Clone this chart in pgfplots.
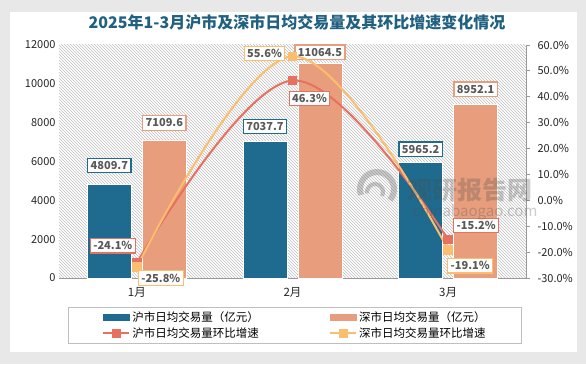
\documentclass[border=0pt]{standalone}
\usepackage{pgfplots}
\pgfplotsset{compat=1.18}
\usepackage{fontspec}
\setmainfont{Noto Sans CJK SC}
\usetikzlibrary{patterns}
\definecolor{cblue}{RGB}{30,107,143}
\definecolor{corange}{RGB}{232,158,124}
\definecolor{cred}{RGB}{232,112,96}
\definecolor{clight}{RGB}{252,190,110}
\definecolor{ctitle}{RGB}{32,96,128}
\definecolor{ctext}{RGB}{89,89,89}
\tikzset{
  lab/.style={draw=#1, fill=white, line width=1.1pt, inner xsep=3pt, inner ysep=3pt,
    text=ctext, font=\bfseries\fontsize{11}{12}\selectfont, anchor=center},
}
\pgfplotsset{
  common/.style={
    at={(59pt,86pt)}, anchor=south west, scale only axis, width=467pt, height=233pt,
    xmin=-0.5, xmax=2.5, clip=false,
    /pgf/number format/assume math mode=true,
    tick label style={font=\fontsize{11}{12}\selectfont, text=black!85},
  }
}
\begin{document}
\begin{tikzpicture}[x=1pt,y=1pt]
\fill[black!9] (0,0) rectangle (586,364);
\fill[white] (10,12) rectangle (577,352);
\node[font=\bfseries\fontsize{16}{18}\selectfont, text=ctitle] at (297,342) {2025年1-3月沪市及深市日均交易量及其环比增速变化情况};

\begin{axis}[common,
  ymin=0, ymax=12000, ytick={0,2000,...,12000},
  scaled y ticks=false,
  /pgf/number format/1000 sep={},
  yticklabel={\pgfmathprintnumber[fixed,precision=0,1000 sep={}]{\tick}},
  axis x line*=bottom, axis y line*=left,
  y axis line style={draw=none}, ytick style={draw=none},
  x axis line style={draw=black!40, line width=0.8pt}, xtick style={draw=none},
  xtick={0,1,2}, xticklabels={1月,2月,3月},
  xticklabel style={font=\fontsize{11.5}{12}\selectfont, yshift=-2pt},
  axis background/.style={pattern=north west lines, pattern color=black!25},
  ybar, bar width=44pt,
  point meta=y,
  visualization depends on={\thisrow{dy} \as \dy},
  nodes near coords={\pgfmathprintnumber[fixed,fixed zerofill,precision=1,1000 sep={}]{\pgfplotspointmeta}},
]
\addplot[bar shift=-27.5pt, fill=cblue, draw=white, line width=0.8pt,
  every node near coord/.append style={lab=cblue, yshift=\dy}]
  table {
x y dy
0 4809.7 19
1 7037.7 15
2 5965.2 13
};
\addplot[bar shift=27.5pt, fill=corange, draw=white, line width=0.8pt,
  every node near coord/.append style={lab=corange, yshift=\dy}]
  table {
x y dy
0 7109.6 17
1 11064.5 11
2 8952.1 15
};
\end{axis}

\begin{axis}[common,
  ymin=-30, ymax=60, ytick={-30,-20,...,60},
  axis x line=none, axis y line*=right,
  y axis line style={draw=black!40, line width=0.8pt},
  ytick style={draw=black!40, line width=0.8pt}, tick align=outside, major tick length=4pt,
  yticklabel={\pgfmathprintnumber[fixed,fixed zerofill,precision=1]{\tick}\%},
  yticklabel style={xshift=4pt},
  point meta=y,
  visualization depends on={\thisrow{dx} \as \dx},
  visualization depends on={\thisrow{dy} \as \dy},
  nodes near coords={\pgfmathprintnumber[fixed,fixed zerofill,precision=1]{\pgfplotspointmeta}\%},
  legend columns=2,
  legend style={at={(0.505,-0.1245)}, anchor=north, draw=black!25, line width=0.8pt,
    font=\fontsize{11.5}{13}\selectfont, inner xsep=34pt, inner ysep=2pt,
    row sep=1pt,
    /tikz/every even column/.append style={column sep=68pt}},
]
\addlegendimage{legend image code/.code={\fill[cblue] (0pt,-3pt) rectangle (26pt,3pt);}}
\addlegendentry{沪市日均交易量（亿元）}
\addlegendimage{legend image code/.code={\fill[corange] (0pt,-3pt) rectangle (26pt,3pt);}}
\addlegendentry{深市日均交易量（亿元）}
\addlegendimage{legend image code/.code={\draw[cred, line width=2.2pt] (0pt,0pt) -- (26pt,0pt); \fill[cred] (9pt,-4pt) rectangle (17pt,4pt);}}
\addlegendentry{沪市日均交易量环比增速}
\addlegendimage{legend image code/.code={\draw[clight, line width=2.2pt] (0pt,0pt) -- (26pt,0pt); \fill[clight] (9pt,-4pt) rectangle (17pt,4pt);}}
\addlegendentry{深市日均交易量环比增速}

\addplot[forget plot, smooth, tension=0.6, cred, line width=2pt, mark=square*, mark size=3.8pt,
  mark options={fill=cred, draw=cred},
  every node near coord/.append style={lab=cred, xshift=\dx, yshift=\dy}]
  table {
x y dx dy
0 -24.1 -24 17
1 46.3 17 -18
2 -15.2 28 14
};
\addplot[forget plot, smooth, tension=0.6, clight, line width=2pt, mark=square*, mark size=3.8pt,
  mark options={fill=clight, draw=clight},
  every node near coord/.append style={lab=clight, xshift=\dx, yshift=\dy}]
  table {
x y dx dy
0 -25.8 24 -11
1 55.6 -28 3
2 -19.1 22 -16
};
\end{axis}

% watermark
\begin{scope}[opacity=0.28]
\draw[black!70, line width=6pt] (390,164) arc[start angle=-40, end angle=200, radius=17];
\draw[black!70, line width=4pt] (382,168) arc[start angle=-30, end angle=190, radius=8];
\node[text=black!70, font=\bfseries\fontsize{25}{25}\selectfont] at (470,174) {观研报告网};
\node[text=black!70, font=\fontsize{15}{15}\selectfont] at (475,152) {chinabaogao.com};
\end{scope}
\pgfresetboundingbox
\useasboundingbox (0,0) rectangle (586,364);
\end{tikzpicture}
\end{document}
